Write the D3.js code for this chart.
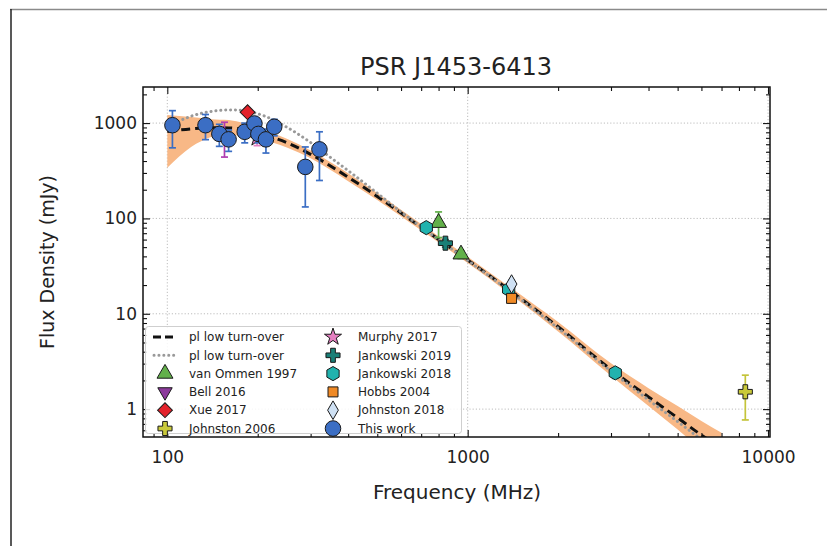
<!DOCTYPE html>
<html lang="en">
<head>
<meta charset="UTF-8">
<title>PSR J1453-6413</title>
<script src="https://d3js.org/d3.v7.min.js"></script>
<style>
  body { margin: 0; background: #fff; }
  svg text { font-family: "DejaVu Sans", sans-serif; fill: #222; }
</style>
</head>
<body>
<svg id="chart" width="827" height="546"></svg>
<script>
// ---- values (MHz, mJy) ----
const workFreq = [104, 134, 149, 160, 181, 195, 201, 213, 227, 288, 321];
const workFlux = [950, 950, 770, 675, 810, 990, 770, 675, 915, 347, 530];
const workErr  = [400, 280, 200, 170, 190, 175, 150, 190, 180, 215, 280];

const vanOmmenFreq = [800, 950];
const vanOmmenFlux = [90, 42];
const vanOmmenErr  = [27, 4];

const bellFreq = [155], bellFlux = [730], bellErr = [290];
const xueFreq = [185], xueFlux = [1300], xueErr = [60];
const johnston06Freq = [8400], johnston06Flux = [1.52], johnston06Err = [0.75];
const murphyFreq = [199], murphyFlux = [700], murphyErr = [120];
const jank19Freq = [843], jank19Flux = [55], jank19Err = [5];
const jank18Freq = [728, 1369, 3100], jank18Flux = [80, 18, 2.4], jank18Err = [8, 1.8, 0.3];
const hobbsFreq = [1400], hobbsFlux = [14.5], hobbsErr = [1.5];
const johnston18Freq = [1400], johnston18Flux = [20.5], johnston18Err = [2];

// fitted model (dashed) and its uncertainty band
const fitFreq  = [100, 120, 140, 160, 180, 200, 250, 300, 400, 500, 700, 1000, 1400, 2000, 3000, 4000, 5000, 6000, 7000];
const fitFlux  = [815, 870, 893, 890, 852, 780, 624, 470, 271, 170, 81, 36.7, 17, 7.3, 2.6, 1.34, 0.81, 0.535, 0.39];
const bandHigh = [1213, 1156, 1100, 1075, 1000, 886, 686, 517, 298, 185, 87.5, 39.6, 18.5, 8.2, 3.02, 1.66, 1.08, 0.75, 0.565];
const bandLow  = [340, 560, 713, 767, 713, 680, 555, 427, 246, 156, 75, 34, 15.6, 6.5, 2.24, 1.08, 0.61, 0.38, 0.27];

// second model (grey dotted)
const fit2Freq = [105, 110, 120, 135, 150, 165, 180, 195, 210, 250, 300, 350, 400, 500, 600, 800, 1000, 1400, 2000, 3000, 4000, 5000, 6000, 7000];
const fit2Flux = [1000, 1060, 1180, 1300, 1360, 1375, 1350, 1280, 1190, 905, 625, 434, 317, 184, 117, 60, 36.3, 16.7, 7.05, 2.5, 1.25, 0.74, 0.48, 0.34];

const xMajor = [100, 1000, 10000];
const xMinor = [90, 200, 300, 400, 500, 600, 700, 800, 900, 2000, 3000, 4000, 5000, 6000, 7000, 8000, 9000];
const yMajor = [1, 10, 100, 1000];
const yMinor = [0.6, 0.7, 0.8, 0.9, 2, 3, 4, 5, 6, 7, 8, 9, 20, 30, 40, 50, 60, 70, 80, 90, 200, 300, 400, 500, 600, 700, 800, 900, 2000];

// ---- custom marker shapes ----
const symbolHexagon = {
  draw(ctx, size) {
    const r = Math.sqrt(size / (1.5 * Math.sqrt(3)));
    for (let i = 0; i < 6; i++) {
      const a = Math.PI / 3 * i - Math.PI / 2;
      i ? ctx.lineTo(r * Math.cos(a), r * Math.sin(a)) : ctx.moveTo(r * Math.cos(a), r * Math.sin(a));
    }
    ctx.closePath();
  }
};
const symbolPlusFilled = {
  draw(ctx, size) {
    // arms one third of the full width; area = 20 r^2 / 9
    const r = Math.sqrt(size * 9 / 20), t = r / 3;
    const pts = [[-t,-r],[t,-r],[t,-t],[r,-t],[r,t],[t,t],[t,r],[-t,r],[-t,t],[-r,t],[-r,-t],[-t,-t]];
    pts.forEach((p, i) => i ? ctx.lineTo(p[0], p[1]) : ctx.moveTo(p[0], p[1]));
    ctx.closePath();
  }
};

const series = [
  {label: 'van Ommen 1997', f: vanOmmenFreq, s: vanOmmenFlux, e: vanOmmenErr, color: '#62b04a', ecolor: '#62b04a', type: d3.symbolTriangle, size: 110, rot: 0},
  {label: 'Bell 2016', f: bellFreq, s: bellFlux, e: bellErr, color: '#8c3a9c', ecolor: '#b03cb0', type: d3.symbolTriangle, size: 90, rot: 180},
  {label: 'Xue 2017', f: xueFreq, s: xueFlux, e: xueErr, color: '#e3222b', ecolor: '#e3222b', type: d3.symbolSquare, size: 110, rot: 45},
  {label: 'Johnston 2006', f: johnston06Freq, s: johnston06Flux, e: johnston06Err, color: '#c9c93a', ecolor: '#c4c43a', type: symbolPlusFilled, size: 110, rot: 0},
  {label: 'Murphy 2017', f: murphyFreq, s: murphyFlux, e: murphyErr, color: '#e47fc0', ecolor: '#e47fc0', type: d3.symbolStar, size: 90, rot: 0},
  {label: 'Jankowski 2019', f: jank19Freq, s: jank19Flux, e: jank19Err, color: '#1a7f77', ecolor: '#1a7f77', type: symbolPlusFilled, size: 110, rot: 0},
  {label: 'Jankowski 2018', f: jank18Freq, s: jank18Flux, e: jank18Err, color: '#21b2ae', ecolor: '#21b2ae', type: symbolHexagon, size: 130, rot: 0},
  {label: 'Hobbs 2004', f: hobbsFreq, s: hobbsFlux, e: hobbsErr, color: '#f08a26', ecolor: '#f08a26', type: d3.symbolSquare, size: 100, rot: 0},
  {label: 'Johnston 2018', f: johnston18Freq, s: johnston18Flux, e: johnston18Err, color: '#cfe1f4', ecolor: '#8fb4dc', type: d3.symbolDiamond, size: 100, rot: 0},
  {label: 'This work', f: workFreq, s: workFlux, e: workErr, color: '#3b6ec4', ecolor: '#3b6ec4', type: d3.symbolCircle, size: 190, rot: 0}
];

// ---- layout ----
const svg = d3.select('#chart');
const plot = {left: 143, right: 770, top: 87, bottom: 437};

const x = d3.scaleLog().domain([83, 10150]).range([plot.left, plot.right]);
const y = d3.scaleLog().domain([0.51, 2390]).range([plot.bottom, plot.top]);

// figure border (top and left only, as in the scan)
svg.append('line').attr('x1', 10).attr('x2', 827).attr('y1', 9.5).attr('y2', 9.5)
  .attr('stroke', '#8a8a8a').attr('stroke-width', 1.5);
svg.append('line').attr('x1', 11).attr('x2', 11).attr('y1', 9).attr('y2', 546)
  .attr('stroke', '#222').attr('stroke-width', 1.5);

svg.append('defs').append('clipPath').attr('id', 'clip')
  .append('rect').attr('x', plot.left).attr('y', plot.top)
  .attr('width', plot.right - plot.left).attr('height', plot.bottom - plot.top);

// grid
const grid = svg.append('g').attr('stroke', '#b5b5b5').attr('stroke-width', 0.9).attr('stroke-dasharray', '1.2,2');
xMajor.forEach(v => grid.append('line').attr('x1', x(v)).attr('x2', x(v)).attr('y1', plot.top).attr('y2', plot.bottom));
yMajor.forEach(v => grid.append('line').attr('y1', y(v)).attr('y2', y(v)).attr('x1', plot.left).attr('x2', plot.right));

const inner = svg.append('g').attr('clip-path', 'url(#clip)');

// uncertainty band
inner.append('path')
  .datum(fitFreq.map((f, i) => ({f, lo: bandLow[i], hi: bandHigh[i]})))
  .attr('fill', '#f8b886')
  .attr('d', d3.area().x(d => x(d.f)).y0(d => y(d.lo)).y1(d => y(d.hi)).curve(d3.curveMonotoneX));

// model curves
inner.append('path')
  .datum(fitFreq.map((f, i) => ({f, s: fitFlux[i]})))
  .attr('fill', 'none').attr('stroke', '#111').attr('stroke-width', 3).attr('stroke-dasharray', '9,5')
  .attr('d', d3.line().x(d => x(d.f)).y(d => y(d.s)).curve(d3.curveMonotoneX));

inner.append('path')
  .datum(fit2Freq.map((f, i) => ({f, s: fit2Flux[i]})))
  .attr('fill', 'none').attr('stroke', '#999').attr('stroke-width', 3)
  .attr('stroke-dasharray', '0.1,4.8').attr('stroke-linecap', 'round')
  .attr('d', d3.line().x(d => x(d.f)).y(d => y(d.s)).curve(d3.curveMonotoneX));

// data points with error bars
series.forEach(sr => {
  const g = inner.append('g');
  sr.f.forEach((f, i) => {
    const cx = x(f), top = y(sr.s[i] + sr.e[i]);
    const bot = sr.s[i] - sr.e[i] > 0 ? y(sr.s[i] - sr.e[i]) : plot.bottom + 5;
    const eg = g.append('g').attr('stroke', sr.ecolor).attr('stroke-width', 1.7);
    eg.append('line').attr('x1', cx).attr('x2', cx).attr('y1', top).attr('y2', bot);
    eg.append('line').attr('x1', cx - 3.5).attr('x2', cx + 3.5).attr('y1', top).attr('y2', top);
    eg.append('line').attr('x1', cx - 3.5).attr('x2', cx + 3.5).attr('y1', bot).attr('y2', bot);
  });
  sr.f.forEach((f, i) => {
    g.append('path')
      .attr('d', d3.symbol().type(sr.type).size(sr.size)())
      .attr('transform', `translate(${x(f)},${y(sr.s[i])}) rotate(${sr.rot})`)
      .attr('fill', sr.color).attr('stroke', '#1a1a1a').attr('stroke-width', 1);
  });
});

// axes: inward ticks on all four sides
const addAxis = (axis, tx, ty) => svg.append('g')
  .attr('transform', `translate(${tx},${ty})`)
  .call(axis)
  .call(g => g.select('.domain').remove())
  .call(g => g.selectAll('line').attr('stroke', '#111').attr('stroke-width', 1.1))
  .call(g => g.selectAll('text').attr('font-size', 17).attr('fill', '#222'));

addAxis(d3.axisBottom(x).tickValues(xMajor).tickFormat(d3.format('d')).tickSizeInner(-7).tickSizeOuter(0).tickPadding(14), 0, plot.bottom);
addAxis(d3.axisBottom(x).tickValues(xMinor).tickFormat('').tickSizeInner(-4).tickSizeOuter(0), 0, plot.bottom);
addAxis(d3.axisTop(x).tickValues(xMajor).tickFormat('').tickSizeInner(-7).tickSizeOuter(0), 0, plot.top);
addAxis(d3.axisTop(x).tickValues(xMinor).tickFormat('').tickSizeInner(-4).tickSizeOuter(0), 0, plot.top);
addAxis(d3.axisLeft(y).tickValues(yMajor).tickFormat(d3.format('d')).tickSizeInner(-7).tickSizeOuter(0).tickPadding(6), plot.left, 0);
addAxis(d3.axisLeft(y).tickValues(yMinor).tickFormat('').tickSizeInner(-4).tickSizeOuter(0), plot.left, 0);
addAxis(d3.axisRight(y).tickValues(yMajor).tickFormat('').tickSizeInner(-7).tickSizeOuter(0), plot.right, 0);
addAxis(d3.axisRight(y).tickValues(yMinor).tickFormat('').tickSizeInner(-4).tickSizeOuter(0), plot.right, 0);

// legend
const lg = svg.append('g');
lg.append('rect').attr('x', 145.5).attr('y', 326.5).attr('width', 316).attr('height', 107).attr('rx', 3)
  .attr('fill', 'rgba(255,255,255,0.85)').attr('stroke', '#cfcfcf');

const rowY = i => 337 + i * 18.3;
const col1 = series.slice(0, 4), col2 = series.slice(4);

// line handles
lg.append('line').attr('x1', 153).attr('x2', 177).attr('y1', rowY(0)).attr('y2', rowY(0))
  .attr('stroke', '#111').attr('stroke-width', 3).attr('stroke-dasharray', '8,4');
lg.append('line').attr('x1', 154).attr('x2', 177).attr('y1', rowY(1)).attr('y2', rowY(1))
  .attr('stroke', '#999').attr('stroke-width', 3).attr('stroke-dasharray', '0.1,4.8').attr('stroke-linecap', 'round');
['pl low turn-over', 'pl low turn-over'].forEach((t, i) =>
  lg.append('text').attr('x', 189).attr('y', rowY(i)).attr('dy', '0.35em').attr('font-size', 12).text(t));

const legendMarker = (sr, cx, cy) => {
  lg.append('path')
    .attr('d', d3.symbol().type(sr.type).size(sr.size)())
    .attr('transform', `translate(${cx},${cy}) rotate(${sr.rot})`)
    .attr('fill', sr.color).attr('stroke', '#1a1a1a').attr('stroke-width', 1);
};
col1.forEach((sr, i) => {
  legendMarker(sr, 165, rowY(i + 2));
  lg.append('text').attr('x', 189).attr('y', rowY(i + 2)).attr('dy', '0.35em').attr('font-size', 12).text(sr.label);
});
col2.forEach((sr, i) => {
  legendMarker(sr, 333, rowY(i));
  lg.append('text').attr('x', 358).attr('y', rowY(i)).attr('dy', '0.35em').attr('font-size', 12).text(sr.label);
});

// frame
svg.append('rect').attr('x', plot.left).attr('y', plot.top)
  .attr('width', plot.right - plot.left).attr('height', plot.bottom - plot.top)
  .attr('fill', 'none').attr('stroke', '#111').attr('stroke-width', 1.5);

// titles
svg.append('text').attr('x', 456).attr('y', 75)
  .attr('text-anchor', 'middle').attr('font-size', 24).text('PSR J1453-6413');
svg.append('text').attr('x', 457).attr('y', 499)
  .attr('text-anchor', 'middle').attr('font-size', 20).text('Frequency (MHz)');
svg.append('text').attr('transform', `translate(54,${(plot.top + plot.bottom) / 2}) rotate(-90)`)
  .attr('text-anchor', 'middle').attr('font-size', 19).text('Flux Density (mJy)');
</script>
</body>
</html>
